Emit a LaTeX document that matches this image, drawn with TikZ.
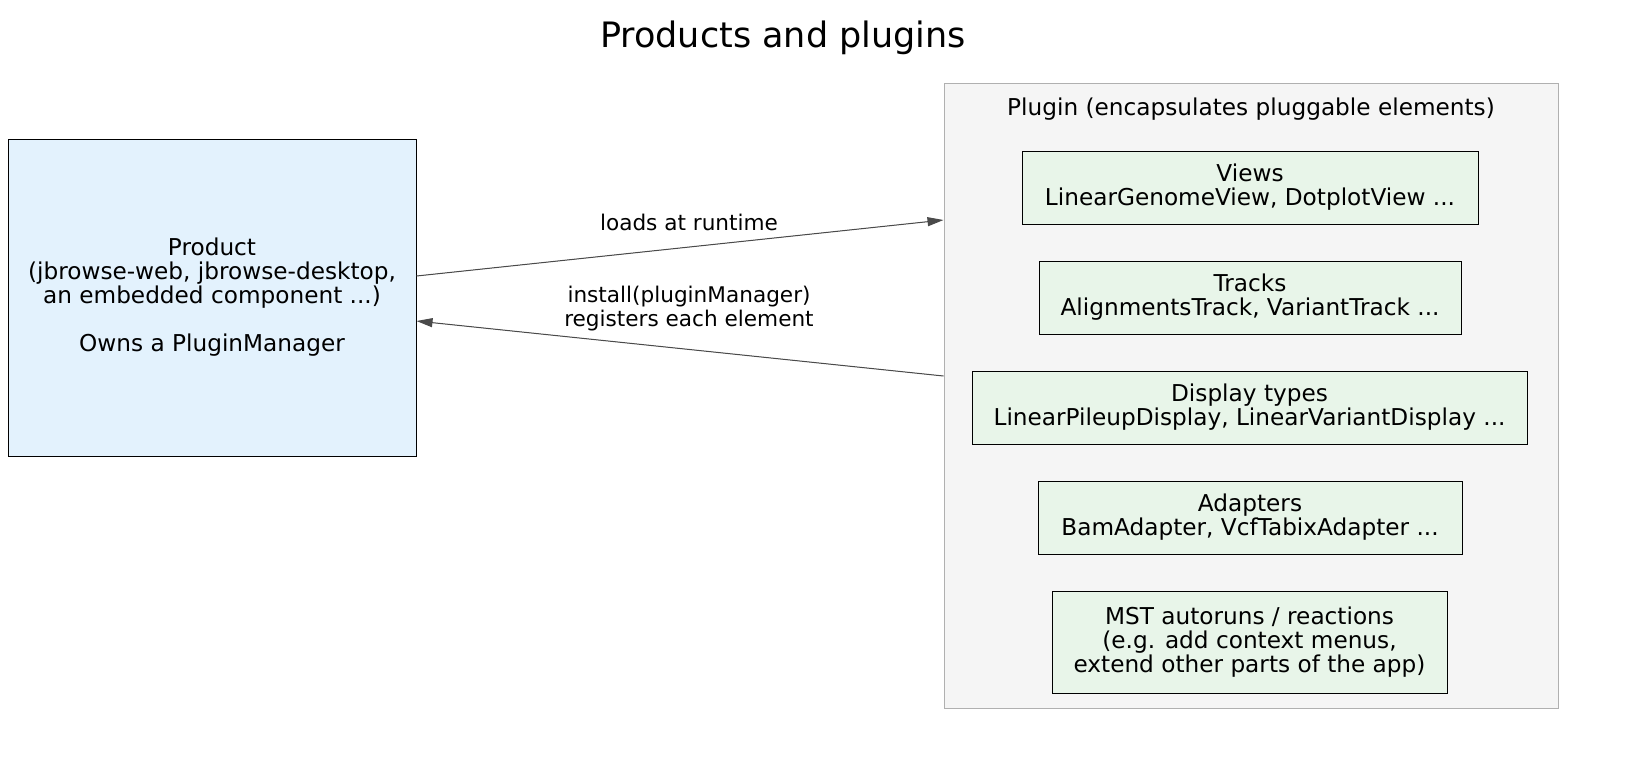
\documentclass[tikz,border=0pt]{standalone}
\usepackage{fontspec}
\setmainfont{DejaVu Sans}
\usetikzlibrary{arrows.meta,positioning}
\definecolor{prodblue}{HTML}{E3F2FD}
\definecolor{elemgreen}{HTML}{E8F5E9}
\definecolor{clustgray}{HTML}{F5F5F5}
\definecolor{clustline}{HTML}{B0B0B0}
\definecolor{edgegray}{HTML}{4A4A4A}
\begin{document}
\begin{tikzpicture}[x=0.5pt,y=-0.5pt,
  boxtext/.style={font=\fontsize{11.6}{12}\selectfont,align=center},
  elem/.style={draw,line width=0.5pt,fill=elemgreen,inner sep=0pt,boxtext},
  flow/.style={draw=edgegray,-{Triangle[length=8pt,width=4.5pt]},line width=0.5pt,fill=edgegray},
  elabel/.style={font=\fontsize{10.8}{12}\selectfont,align=center}]
  \useasboundingbox (0,0) rectangle (1632,762);

  \node[font=\fontsize{17.5}{20}\selectfont] (title) at (783,38) {Products and plugins};

  % product
  \node[draw,line width=0.5pt,fill=prodblue,minimum width=204pt,minimum height=158.5pt,boxtext] (prod) at (212,297.5)
    {Product\\(jbrowse-web, jbrowse-desktop,\\an embedded component ...)\\[12pt]Owns a PluginManager};

  % plugin cluster
  \node[draw=clustline,fill=clustgray,line width=0.5pt,minimum width=307pt,minimum height=312.5pt] (plugin) at (1251,395.5) {};
  \node[boxtext] (plugintitle) at (1251,109) {Plugin (encapsulates pluggable elements)};

  \node[elem,minimum width=228pt,minimum height=36.5pt] (views) at (1250,187.5) {Views\\LinearGenomeView, DotplotView ...};
  \node[elem,minimum width=211pt,minimum height=36.5pt] (tracks) at (1250,297.5) {Tracks\\AlignmentsTrack, VariantTrack ...};
  \node[elem,minimum width=277.5pt,minimum height=36.5pt] (displays) at (1249.5,407.5) {Display types\\LinearPileupDisplay, LinearVariantDisplay ...};
  \node[elem,minimum width=212pt,minimum height=36.5pt] (adapters) at (1250,517.5) {Adapters\\BamAdapter, VcfTabixAdapter ...};
  \node[elem,minimum width=197.5pt,minimum height=51pt] (mst) at (1249.5,642) {MST autoruns / reactions\\(e.g. add context menus,\\extend other parts of the app)};

  % edges
  \coordinate (prodout) at (prod.east |- 0,276);
  \coordinate (prodin) at (prod.east |- 0,321);
  \coordinate (pluginin) at (plugin.west |- 0,220);
  \coordinate (pluginout) at (plugin.west |- 0,376);
  \draw[flow] (prodout) -- (pluginin);
  \draw[flow] (pluginout) -- (prodin);
  \node[elabel] (loadlabel) at (689,222) {loads at runtime};
  \node[elabel] (installlabel) at (689,309) {install(pluginManager)\\registers each element};
\end{tikzpicture}
\end{document}
